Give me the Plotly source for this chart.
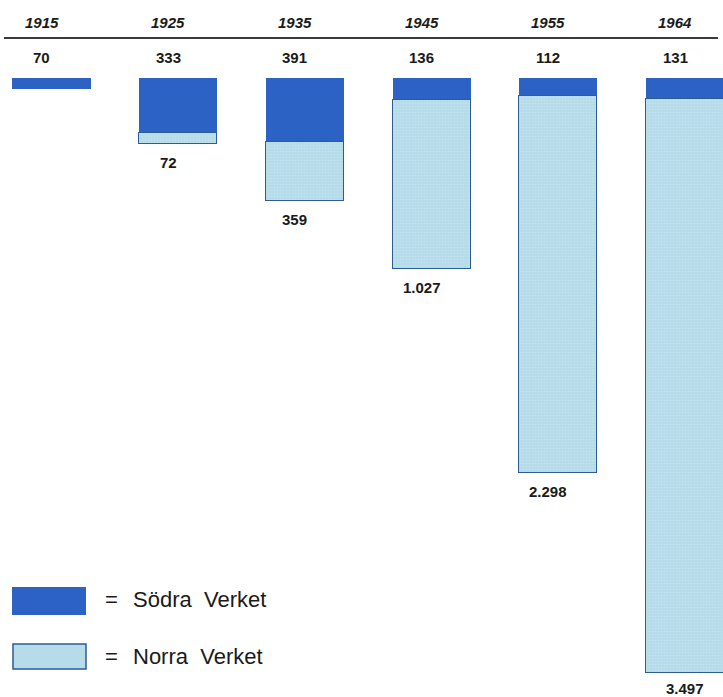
import plotly.graph_objects as go

# Production per year: Södra Verket (top block) and Norra Verket (below)
years = ["1915", "1925", "1935", "1945", "1955", "1964"]
sodra = [70, 333, 391, 136, 112, 131]
norra = [None, 72, 359, 1027, 2298, 3497]

DARK = "#2c62c4"
LIGHT = "#b6dbe9"
EDGE = "#2c5c96"
TEXT = "#1a1a1a"
FONT = "Liberation Sans"
W, H = 723, 697

x = list(range(len(years)))


def fmt(v):
    return f"{v:,}".replace(",", ".")


def px_y(p):
    return 1 - p / H


fig = go.Figure()
fig.add_trace(go.Bar(
    x=x, y=sodra, name="Södra Verket", width=0.616,
    marker=dict(color=DARK, line=dict(width=0)),
))
fig.add_trace(go.Bar(
    x=x, y=norra, name="Norra Verket", width=0.616,
    marker=dict(color=LIGHT, line=dict(color=EDGE, width=1.5),
                pattern=dict(shape=".", fgcolor="#d2ebf3", fgopacity=0.5,
                             size=3, solidity=0.2)),
))

num_font = dict(family=FONT, size=15, color=TEXT)
annotations = []
last = len(years) - 1
for i, yr in enumerate(years):
    # year heading above the rule
    annotations.append(dict(x=i, y=px_y(22), xref="x", yref="paper",
                            yanchor="middle", text=f"<b><i>{yr}</i></b>",
                            showarrow=False, xshift=-10, font=num_font))
    # Södra value under the rule
    annotations.append(dict(x=i, y=px_y(57), xref="x", yref="paper",
                            yanchor="middle", text=f"<b>{fmt(sodra[i])}</b>",
                            showarrow=False, xshift=-10, font=num_font))
    # Norra value below each bar (the tallest one sits right at the bottom edge)
    if norra[i] is not None:
        annotations.append(dict(x=i, y=sodra[i] + norra[i], xref="x", yref="y",
                                text=f"<b>{fmt(norra[i])}</b>", showarrow=False,
                                yanchor="top",
                                yshift=-5 if i == last else -8,
                                xshift=0 if i == last else -10,
                                font=num_font))

# hand-drawn legend
leg_font = dict(family=FONT, size=22, color=TEXT)
for label, yc in (("Södra  Verket", 599), ("Norra  Verket", 656)):
    annotations.append(dict(x=103 / W, y=px_y(yc), xref="paper", yref="paper",
                            text="=", showarrow=False, xanchor="left",
                            yanchor="middle", font=leg_font))
    annotations.append(dict(x=131 / W, y=px_y(yc), xref="paper", yref="paper",
                            text=label, showarrow=False, xanchor="left",
                            yanchor="middle", font=leg_font))

shapes = [
    # rule under the year headings
    dict(type="line", xref="paper", yref="paper", x0=4 / W, x1=718 / W,
         y0=px_y(38), y1=px_y(38), line=dict(color="#3a3a3a", width=2)),
    dict(type="rect", xref="paper", yref="paper", x0=12 / W, x1=86 / W,
         y0=px_y(615), y1=px_y(587), fillcolor=DARK, line=dict(width=0)),
    dict(type="rect", xref="paper", yref="paper", x0=13 / W, x1=86 / W,
         y0=px_y(669), y1=px_y(644), fillcolor=LIGHT,
         line=dict(color=EDGE, width=1.5)),
]

scale = 0.164  # pixels per unit
fig.update_layout(
    width=W, height=H, barmode="stack", bargap=0,
    margin=dict(l=0, r=0, t=0, b=0),
    paper_bgcolor="white", plot_bgcolor="white", showlegend=False,
    xaxis=dict(range=[-51.5 / 126.7, (W - 51.5) / 126.7], visible=False),
    yaxis=dict(range=[(H - 78) / scale, -78 / scale], visible=False),
    annotations=annotations, shapes=shapes,
)

fig.write_html("out.html")
